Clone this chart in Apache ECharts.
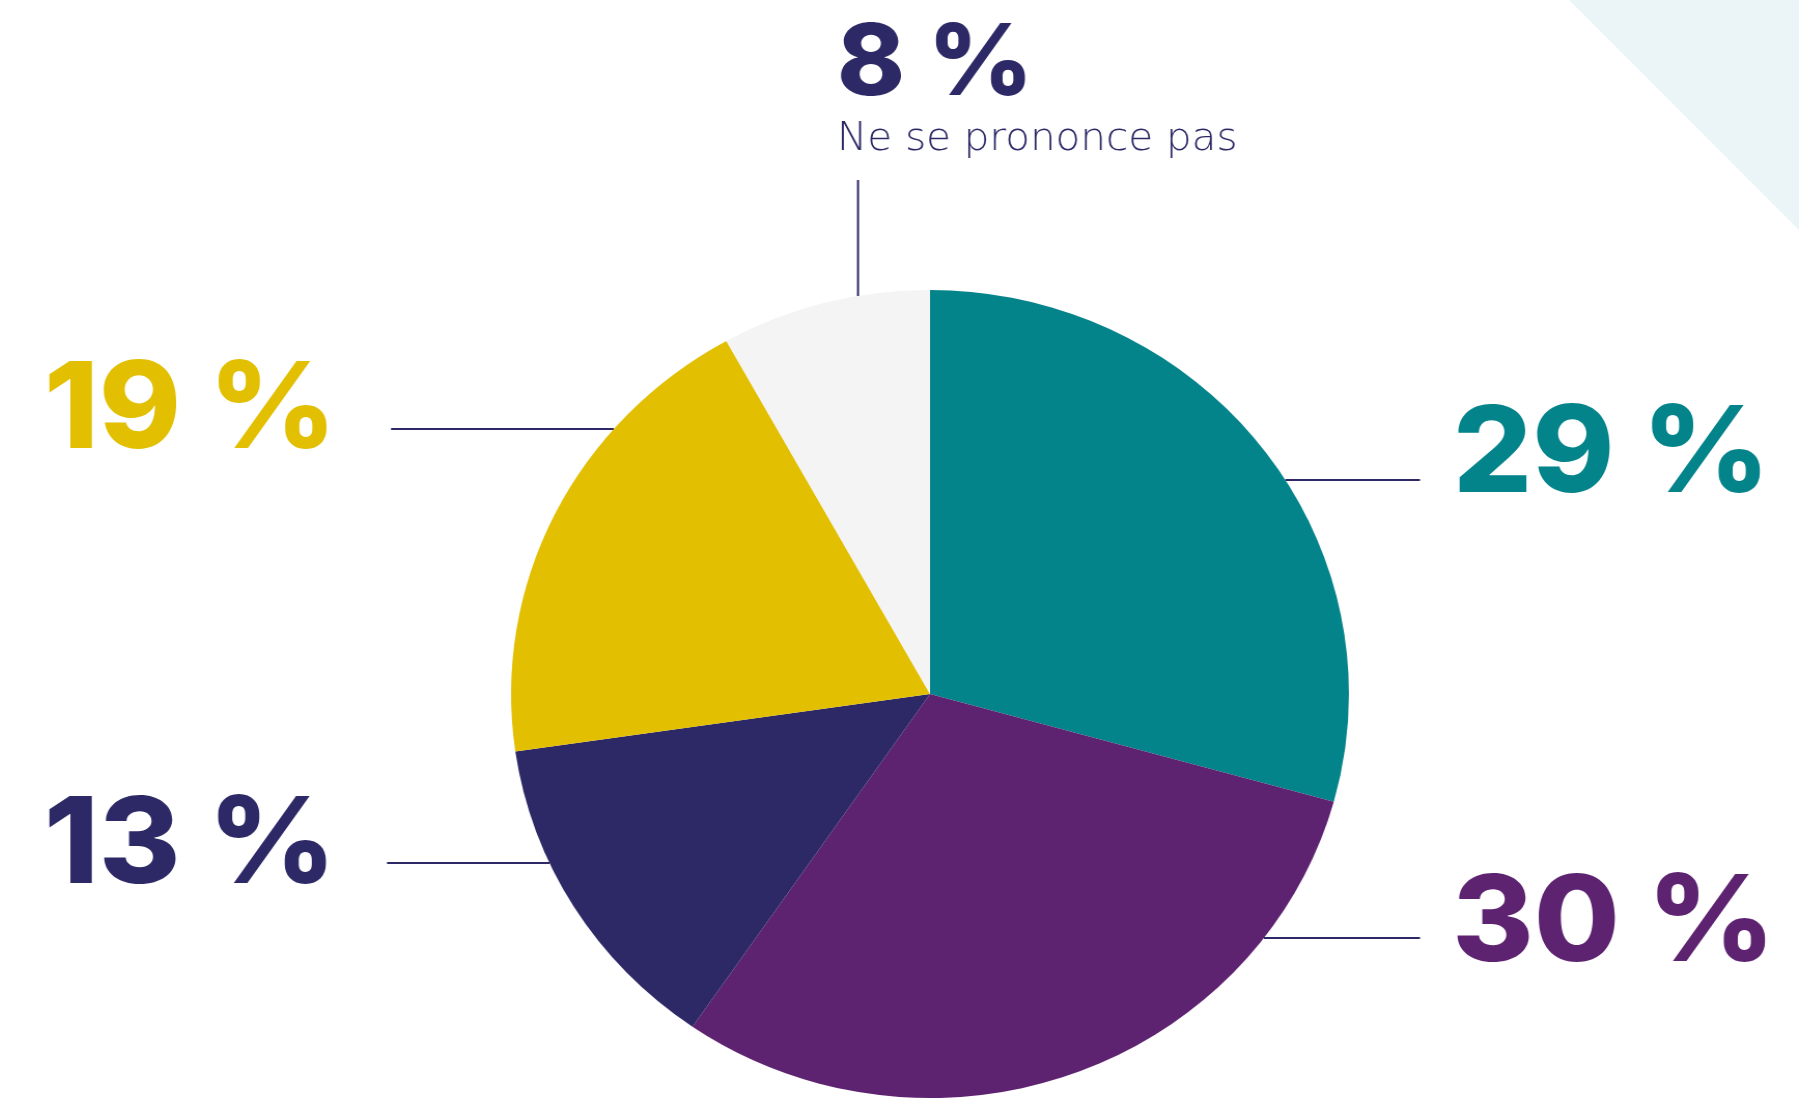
<!DOCTYPE html>
<html>
<head>
<meta charset="utf-8">
<script src="https://cdn.jsdelivr.net/npm/echarts@6/dist/echarts.min.js"></script>
<style>
  html, body { margin: 0; padding: 0; overflow: hidden; background: #ffffff; width: 1799px; height: 1100px; }
  /* the pie is drawn slightly wider than tall */
  #chart { width: 1799px; height: 1100px; transform-origin: 930px 0; transform: scaleX(1.037); }
</style>
</head>
<body>
<div id="chart"></div>
<script>
// Survey shares, clockwise from the top
const categories = ['Réponse A', 'Réponse B', 'Réponse C', 'Réponse D', 'Ne se prononce pas'];
const values = [29, 30, 13, 19, 8];
const sliceColors = ['#03838A', '#5E2370', '#2C2966', '#E2BF00', '#F4F4F4'];
const labelColors = ['#03838A', '#5E2370', '#2C2966', '#E2BF00', '#2C2966'];

const SX = 1.037;          // horizontal stretch applied to the container
const CX = 930, CY = 694;  // pie centre
const R = 404;             // pie radius (vertical)
const toX = (px) => CX + (px - CX) / SX;   // page x -> chart x
const LINE = '#2C2966';

// where each callout sits on the page: text left edge, cap top, guide line
const callouts = [
  { side: 'right', textX: 1453, capTop: 405, lineY: 480, lineEnd: 1420 },
  { side: 'right', textX: 1452, capTop: 874, lineY: 938, lineEnd: 1420 },
  { side: 'left',  textX: 44,   capTop: 796, lineY: 863, lineEnd: 387 },
  { side: 'left',  textX: 44,   capTop: 361, lineY: 429, lineEnd: 391 },
  { side: 'top',   textX: 837,  capTop: 23,  lineX: 858, lineTop: 180 }
];

const BIG = 120;

function edgeX(lineY, side) {
  const dy = lineY - CY;
  const dx = Math.sqrt(Math.max(0, R * R - dy * dy));
  return side === 'right' ? CX + dx : CX - dx;
}

const data = categories.map((name, i) => {
  const item = {
    name: name,
    value: values[i],
    itemStyle: { color: sliceColors[i] },
    label: { color: labelColors[i] }
  };
  if (callouts[i].side === 'top') {
    item.label.formatter = '{big|{c} %}\n{sub|{b}}';
  }
  return item;
});

const chart = echarts.init(document.getElementById('chart'), null, { renderer: 'canvas' });

chart.setOption({
  animation: false,
  backgroundColor: '#ffffff',
  graphic: [{
    type: 'polygon',
    silent: true,
    z: -1,
    shape: { points: [[toX(1569), 0], [toX(1950), 0], [toX(1950), 381]] },
    style: { fill: '#EBF5F7' }
  }],
  series: [{
    type: 'pie',
    center: [CX, CY],
    radius: R,
    startAngle: 90,
    clockwise: true,
    avoidLabelOverlap: false,
    emphasis: { disabled: true },
    itemStyle: { borderWidth: 0 },
    data: data,
    label: {
      show: true,
      position: 'outside',
      formatter: '{c} %',
      fontFamily: 'Inter',
      fontWeight: 800,
      fontSize: BIG,
      lineHeight: BIG,
      rich: {
        big: { fontFamily: 'Inter', fontWeight: 800, fontSize: 99, lineHeight: 90 },
        sub: { fontFamily: 'DejaVu Sans', fontWeight: 200, fontSize: 39, lineHeight: 60 }
      }
    },
    labelLine: {
      show: true,
      lineStyle: { color: LINE, width: 2 }
    },
    labelLayout: function (params) {
      const c = callouts[params.dataIndex];
      if (c.side === 'top') {
        const lx = toX(c.lineX);
        const ey = CY - Math.sqrt(R * R - (lx - CX) * (lx - CX));
        return {
          x: toX(c.textX),
          y: c.capTop - 3,
          align: 'left',
          verticalAlign: 'top',
          labelLinePoints: [[lx, ey], [lx, (ey + c.lineTop) / 2], [lx, c.lineTop]]
        };
      }
      const ex = edgeX(c.lineY, c.side);
      const lx = toX(c.lineEnd);
      return {
        x: toX(c.textX),
        y: c.capTop - 9,
        align: 'left',
        verticalAlign: 'top',
        labelLinePoints: [[ex, c.lineY], [(ex + lx) / 2, c.lineY], [lx, c.lineY]]
      };
    }
  }]
});
</script>
</body>
</html>
